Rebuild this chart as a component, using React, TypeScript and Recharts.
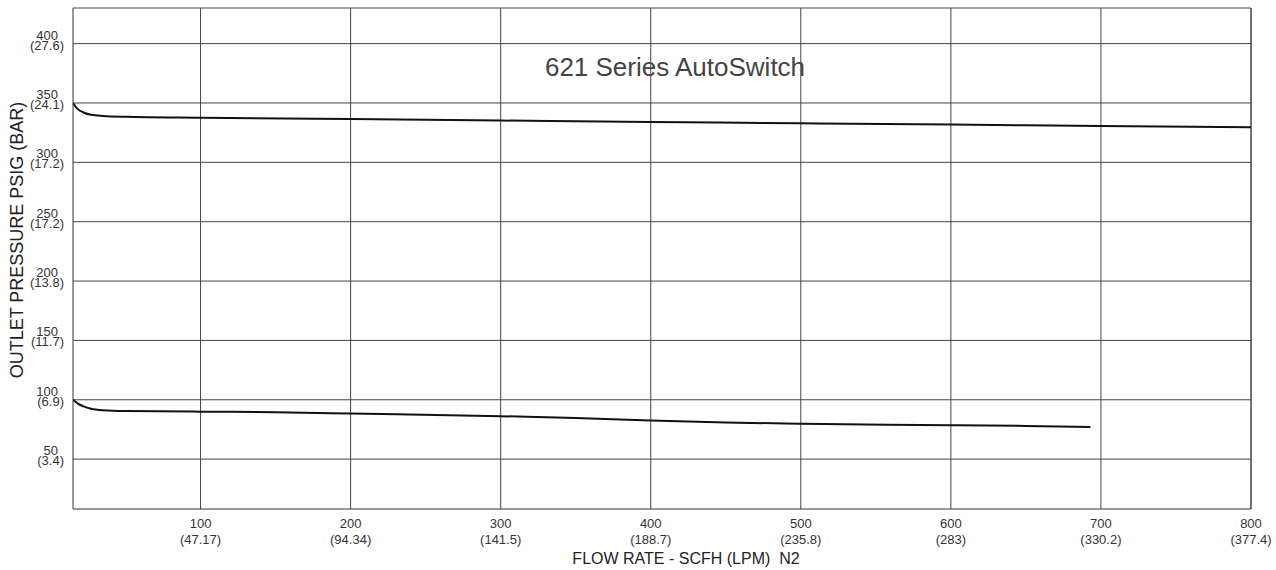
import { LineChart, Line, XAxis, YAxis, CartesianGrid, ReferenceLine } from 'recharts';

// tick values and their metric labels
const xTicks = [100, 200, 300, 400, 500, 600, 700, 800];
const xTickLpm = ['(47.17)', '(94.34)', '(141.5)', '(188.7)', '(235.8)', '(283)', '(330.2)', '(377.4)'];
const yTicks = [50, 100, 150, 200, 250, 300, 350, 400];
const yTickBar = ['(3.4)', '(6.9)', '(11.7)', '(13.8)', '(17.2)', '(17.2)', '(24.1)', '(27.6)'];

// upper curve (350 psig setting)
const highFlow = [15, 18, 22, 27, 35, 50, 100, 200, 300, 400, 500, 600, 700, 800];
const highPsig = [350, 345, 342, 340, 339, 338.3, 337.5, 336.4, 335.2, 334, 332.9, 331.8, 330.6, 329.5];

// lower curve (100 psig setting)
const lowFlow = [15, 18, 22, 27, 35, 50, 100, 150, 200, 300, 350, 400, 450, 500, 600, 650, 693];
const lowPsig = [100, 97, 94.5, 92.5, 91.2, 90.5, 90, 89.5, 88.4, 86.2, 84.6, 82.6, 80.9, 79.8, 78.6, 78, 77];

const highData = highFlow.map((f, i) => ({ flow: f, psig: highPsig[i] }));
const lowData = lowFlow.map((f, i) => ({ flow: f, psig: lowPsig[i] }));

const FONT = '"Liberation Sans", Arial, sans-serif';

const XTick = (props: any) => {
  const { x, y, payload } = props;
  const i = xTicks.indexOf(payload.value);
  return (
    <g>
      <text x={x} y={y + 11} textAnchor="middle" fontSize={13} fill="#333" fontFamily={FONT}>
        {payload.value}
      </text>
      <text x={x} y={y + 27} textAnchor="middle" fontSize={13} fill="#333" fontFamily={FONT}>
        {xTickLpm[i]}
      </text>
    </g>
  );
};

const YTick = (props: any) => {
  const { y, payload } = props;
  const i = yTicks.indexOf(payload.value);
  return (
    <g>
      <text x={58} y={y - 4} textAnchor="end" fontSize={13} fill="#333" fontFamily={FONT}>
        {payload.value}
      </text>
      <text x={64} y={y + 6} textAnchor="end" fontSize={13} fill="#333" fontFamily={FONT}>
        {yTickBar[i]}
      </text>
    </g>
  );
};

export default function App() {
  return (
    <div style={{ position: 'absolute', left: 0, top: 0, background: '#fff' }}>
      <LineChart width={1276} height={570} margin={{ top: 8, right: 25, bottom: 0, left: 0 }}>
        <CartesianGrid stroke="#444" strokeWidth={1} horizontalValues={yTicks} verticalValues={xTicks} />
        <XAxis
          dataKey="flow"
          type="number"
          domain={[15, 800]}
          ticks={xTicks}
          allowDataOverflow
          height={61}
          tickLine={false}
          axisLine={{ stroke: '#333' }}
          tick={<XTick />}
        />
        <YAxis
          type="number"
          domain={[8, 430]}
          ticks={yTicks}
          allowDataOverflow
          width={73}
          tickLine={false}
          axisLine={{ stroke: '#333' }}
          tick={<YTick />}
        />
        <ReferenceLine y={430} stroke="#444" />
        <ReferenceLine x={800} stroke="#444" />
        <Line data={highData} dataKey="psig" type="monotone" stroke="#111" strokeWidth={2} dot={false} isAnimationActive={false} />
        <Line data={lowData} dataKey="psig" type="monotone" stroke="#111" strokeWidth={2} dot={false} isAnimationActive={false} />
        <text x={675} y={76} textAnchor="middle" fontSize={26} fill="#444" fontFamily={FONT}>
          621 Series AutoSwitch
        </text>
        <text x={686} y={564} textAnchor="middle" fontSize={16} fill="#222" fontFamily={FONT}>
          {'FLOW RATE - SCFH (LPM)\u00a0 N2'}
        </text>
        <text
          x={23}
          y={240}
          textAnchor="middle"
          fontSize={18}
          fill="#222"
          fontFamily={FONT}
          transform="rotate(-90 23 240)"
        >
          OUTLET PRESSURE PSIG (BAR)
        </text>
      </LineChart>
    </div>
  );
}
